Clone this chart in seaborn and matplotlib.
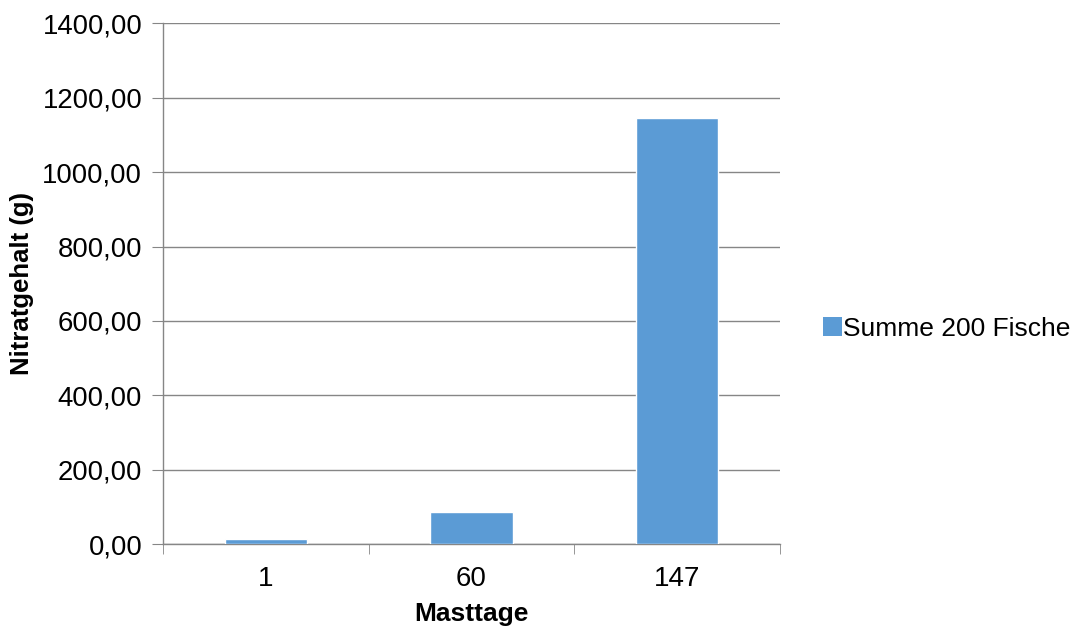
import matplotlib
matplotlib.use("Agg")
import matplotlib.pyplot as plt
from matplotlib.patches import Patch
from matplotlib.ticker import FuncFormatter, MultipleLocator
import seaborn as sns
import pandas as pd

# Nitrate content summed over 200 fish, per fattening day
masttage = ["1", "60", "147"]
nitrat_g = [13.0, 85.0, 1147.0]
serie = "Summe 200 Fische"

df = pd.DataFrame({"Masttage": masttage, "Nitratgehalt": nitrat_g})

sns.set_style("white")
plt.rcParams["font.family"] = ["Liberation Sans", "DejaVu Sans"]
plt.rcParams["text.color"] = "black"
plt.rcParams["axes.labelcolor"] = "black"

bar_color = "#5B9BD5"
axis_color = "#868686"

fig = plt.figure(figsize=(10.84, 6.30), dpi=100)
ax = fig.add_axes([0.1504, 0.1365, 0.5692, 0.8262])

sns.barplot(data=df, x="Masttage", y="Nitratgehalt", color=bar_color,
            width=0.4, saturation=1, ax=ax, zorder=3)

ax.set_xlim(-0.5, 2.5)
ax.set_ylim(0, 1400)
ax.yaxis.set_major_locator(MultipleLocator(200))
ax.yaxis.set_major_formatter(FuncFormatter(lambda v, p: f"{v:.2f}".replace(".", ",")))
ax.grid(axis="y", color=axis_color, linewidth=1, zorder=0)
ax.grid(axis="x", visible=False)

for side in ["top", "right"]:
    ax.spines[side].set_visible(False)
for side in ["left", "bottom"]:
    ax.spines[side].set_color(axis_color)
    ax.spines[side].set_linewidth(1)

# category boundary ticks on x, outward ticks on y
ax.set_xticks([0, 1, 2])
ax.set_xticklabels(masttage)
ax.tick_params(axis="x", length=0, labelsize=20, pad=16, colors="black")
ax.set_xticks([-0.5, 0.5, 1.5, 2.5], minor=True)
ax.tick_params(axis="x", which="minor", length=7, color=axis_color, direction="out", bottom=True)
ax.tick_params(axis="y", length=8, color=axis_color, direction="out", labelsize=19.8, pad=7, colors="black", left=True)

ax.set_xlabel("Masttage", fontsize=19, fontweight="bold", labelpad=7, color="black")
ax.set_ylabel("Nitratgehalt (g)", fontsize=18.5, fontweight="bold", labelpad=6, color="black")

handle = Patch(facecolor=bar_color, edgecolor="none")
leg = fig.legend([handle], [serie], loc="center left", bbox_to_anchor=(0.759, 0.478),
                 frameon=False, fontsize=19, handlelength=0.72, handleheight=0.72,
                 handletextpad=0.05, borderpad=0, borderaxespad=0)
for t in leg.get_texts():
    t.set_color("black")

fig.savefig("out.png", dpi=100)
